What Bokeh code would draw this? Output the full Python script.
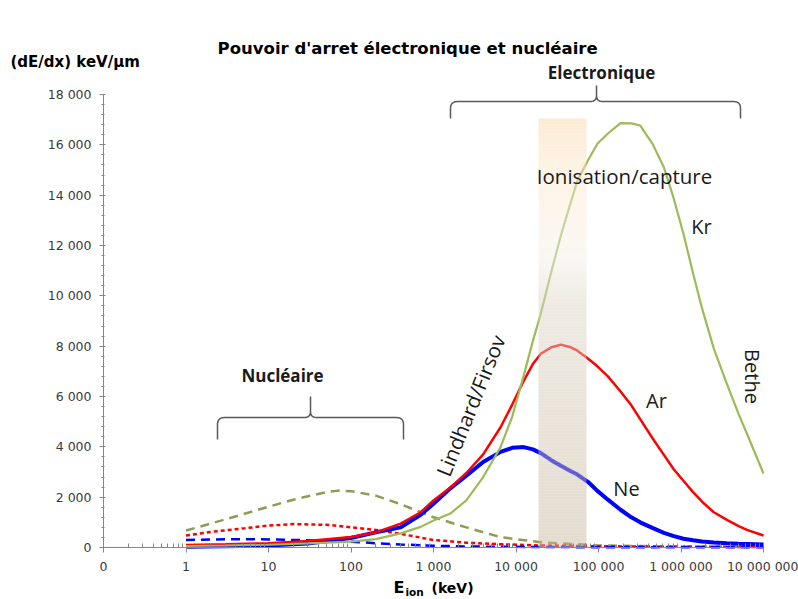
import numpy as np
from bokeh.plotting import figure
from bokeh.models import Range1d, FixedTicker, CustomJSTickFormatter, Label
from bokeh.embed import file_html
from bokeh.resources import INLINE

# ---------------- data ----------------
# electronic stopping power (solid lines), keV/um vs ion energy (keV)
E_EL = [1, 3, 10, 30, 100, 200, 400, 700, 1000, 1600, 2500, 4000, 6500, 9000,
        12400, 16000, 20000, 27000, 35000, 45000, 55500, 75000, 97000, 130000,
        185000, 250000, 320000, 450000, 620000, 820000, 1070000, 1400000,
        1800000, 2500000, 3600000, 5000000, 6300000, 10000000]
KR_EL = [60, 80, 110, 160, 230, 330, 560, 820, 1070, 1350, 1870, 2800, 3990, 5200,
         6830, 8200, 9300, 11000, 12400, 13600, 14580, 15400, 16040, 16450,
         16860, 16850, 16770, 16050, 15110, 13850, 12470, 10900,
         9500, 7900, 6500, 5300, 4520, 2940]
AR_EL = [100, 130, 170, 260, 420, 600, 950, 1400, 1870, 2380, 2960, 3700, 4780, 5680,
         6620, 7290, 7700, 7960, 8060, 7970, 7820, 7500, 7200, 6800,
         6200, 5650, 5100, 4350, 3680, 3100, 2650, 2200,
         1820, 1400, 1100, 850, 700, 475]
NE_EL = [30, 50, 80, 160, 380, 600, 800, 1300, 1740, 2350, 2850, 3400, 3800, 3960,
         3990, 3900, 3750, 3460, 3250, 3050, 2900, 2600, 2250, 1900,
         1500, 1200, 1000, 780, 580, 450, 350, 290,
         240, 200, 170, 150, 140, 120]

# nuclear stopping power (dashed lines)
E_NU = [1, 2, 5, 10, 20, 50, 70, 100, 200, 400, 1000, 2500, 6500, 20000,
        100000, 1000000, 10000000]
KR_NU = [675, 950, 1330, 1620, 1900, 2200, 2260, 2240, 2060, 1720, 1200, 800,
         410, 210, 80, 40, 30]
AR_NU = [475, 620, 760, 870, 930, 900, 860, 800, 700, 540, 300, 190, 130, 80,
         50, 30, 20]
NE_NU = [300, 320, 330, 320, 300, 270, 250, 230, 170, 120, 70, 40, 30, 20,
         10, 5, 5]

X_TICKS = [0.1, 1, 10, 100, 1000, 10000, 100000, 1000000, 10000000]
Y_TICKS = [0, 2000, 4000, 6000, 8000, 10000, 12000, 14000, 16000, 18000]

# ---------------- layout (canvas pixels) ----------------
W, H = 798, 599
AX_X0, AX_X1 = 103, 763      # x of 0.1 and 1e7
AX_Y0, AX_Y1 = 547, 94       # y of 0 and 18000
DEC = (AX_X1 - AX_X0) / 8.0
VPP = 18000 / (AX_Y0 - AX_Y1)


def dx(px):
    return 10 ** (-1 + (px - AX_X0) / DEC)


def dy(py):
    return (AX_Y0 - py) * VPP


p = figure(width=W, height=H, x_axis_type="log", output_backend="svg",
           toolbar_location=None, title=None,
           x_range=Range1d(dx(0), dx(W)), y_range=Range1d(dy(H), dy(0)),
           min_border=0, min_border_left=0, min_border_right=0,
           min_border_top=0, min_border_bottom=0)
p.outline_line_color = None
p.grid.visible = False
p.background_fill_color = "white"
p.border_fill_color = "white"

fmt = CustomJSTickFormatter(code=r"""
if (tick < 0.5) { return "0"; }
return Math.round(tick).toString().replace(/\B(?=(\d{3})+(?!\d))/g, " ");
""")

minor_x = [k * 10 ** n for n in range(-1, 7) for k in range(2, 10)]
p.xaxis.ticker = FixedTicker(ticks=X_TICKS, minor_ticks=minor_x)
p.xaxis.formatter = fmt
p.xaxis.bounds = (0.1, 10000000)
p.xaxis.fixed_location = 0
p.yaxis.ticker = FixedTicker(ticks=Y_TICKS, minor_ticks=list(range(0, 18001, 400)))
p.yaxis.formatter = fmt
p.yaxis.bounds = (0, 18000)
p.yaxis.fixed_location = 0.1

for ax in (p.xaxis, p.yaxis):
    ax.axis_line_color = "#868686"
    ax.axis_line_width = 1
    ax.major_tick_line_color = "#868686"
    ax.minor_tick_line_color = "#868686"
    ax.major_label_text_font = "DejaVu Sans"
    ax.major_label_text_font_size = "12.5px"
    ax.major_label_text_color = "#3a3a3a"

p.xaxis.major_tick_out = 5
p.xaxis.major_tick_in = 0
p.xaxis.minor_tick_out = 0
p.xaxis.minor_tick_in = 4
p.xaxis.major_label_standoff = 6
p.yaxis.major_tick_out = 4
p.yaxis.major_tick_in = 2
p.yaxis.minor_tick_out = 2
p.yaxis.minor_tick_in = 1
p.yaxis.major_label_standoff = 8

# nuclear (dashed)
p.line(E_NU, KR_NU, line_color="#8F9C52", line_width=2.5, line_dash="9 6")
p.line(E_NU, AR_NU, line_color="#FF0000", line_width=2.5, line_dash="4 3")
p.line(E_NU, NE_NU, line_color="#0000FF", line_width=2.5, line_dash="9 6")
# electronic (solid)
p.line(E_EL, NE_EL, line_color="#0000FF", line_width=4)
p.line(E_EL, AR_EL, line_color="#FF0000", line_width=2.5)
p.line(E_EL, KR_EL, line_color="#9BBB59", line_width=2.2)

# ---------------- ionisation/capture band (vertical gradient) ----------------
band_l, band_r = dx(538), dx(586)
stops_py = [118, 194, 258, 300, 547]
stops_rgb = [(253, 236, 212), (254, 245, 234), (250, 248, 244), (239, 235, 227), (227, 220, 207)]
ys = np.arange(118, 547, 3)
tops, bots, cols = [], [], []
for yy in ys:
    y2 = min(yy + 3, 547)
    mid = (yy + y2) / 2
    rgb = [np.interp(mid, stops_py, [c[i] for c in stops_rgb]) for i in range(3)]
    src = [int(max(0, min(255, round(2 * v - 255)))) for v in rgb]
    cols.append("#%02x%02x%02x" % tuple(src))
    tops.append(dy(yy))
    bots.append(dy(y2))
p.quad(left=band_l, right=band_r, top=tops, bottom=bots, fill_color=cols,
       fill_alpha=0.5, line_color=None)


# ---------------- braces ----------------
def qbez(p0, p1, p2, n=8):
    t = np.linspace(0, 1, n)
    return [((1 - s) ** 2 * p0[0] + 2 * (1 - s) * s * p1[0] + s ** 2 * p2[0],
             (1 - s) ** 2 * p0[1] + 2 * (1 - s) * s * p1[1] + s ** 2 * p2[1]) for s in t]


def brace(x1, x2, xc, yl, ye, yt, r=7, rc=6):
    pts = [(x1, ye), (x1, yl + r)]
    pts += qbez((x1, yl + r), (x1, yl), (x1 + r, yl))
    pts += [(xc - rc, yl)]
    pts += qbez((xc - rc, yl), (xc, yl), (xc, yl - rc))
    pts += [(xc, yt)]
    pts += [(xc, yl - rc)]
    pts += qbez((xc, yl - rc), (xc, yl), (xc + rc, yl))
    pts += [(x2 - r, yl)]
    pts += qbez((x2 - r, yl), (x2, yl), (x2, yl + r))
    pts += [(x2, ye)]
    p.line([dx(a) for a, b in pts], [dy(b) for a, b in pts],
           line_color="#595959", line_width=1.5)


brace(450, 740, 596, 101, 118, 85)
brace(217, 403, 310, 417, 439, 396)


# ---------------- texts ----------------
def lab(px, py, text, font="Open Sans", size=20, style="normal", align="center",
        base="middle", angle=0.0, color="#1a1a1a"):
    p.add_layout(Label(x=dx(px), y=dy(py), text=text, text_font=font,
                       text_font_size=f"{size}px", text_font_style=style,
                       text_align=align, text_baseline=base, angle=angle,
                       text_color=color))


lab(410, 48, "Pouvoir d'arret électronique  et nucléaire", font="DejaVu Sans",
    size=16.5, style="bold", color="#000000")
lab(10, 61, "(dE/dx) keV/µm", font="DejaVu Sans", size=15, style="bold",
    align="left", color="#000000")
lab(601, 72, "Electronique", size=17, style="bold")
lab(282, 375, "Nucléaire", size=17, style="bold")
lab(624, 175, "Ionisation/capture", size=20.5)
lab(701, 226, "Kr", size=20)
lab(656, 400, "Ar", size=20)
lab(626, 488, "Ne", size=20)
lab(752, 376, "Bethe", size=20, angle=-np.pi / 2)
lab(470, 405, "Lindhard/Firsov", size=20.5, angle=np.radians(68))

# x axis title  E_ion (keV)
lab(393, 587, "E", font="DejaVu Sans", size=16, style="bold",
    align="left", base="middle", color="#000000")
lab(405, 591, "ion", font="DejaVu Sans", size=10.5, style="bold", align="left",
    base="middle", color="#000000")
lab(431, 587, "(keV)", font="DejaVu Sans", size=14, style="bold", align="left",
    base="middle", color="#000000")

open("out.html", "w").write(file_html(p, INLINE))
